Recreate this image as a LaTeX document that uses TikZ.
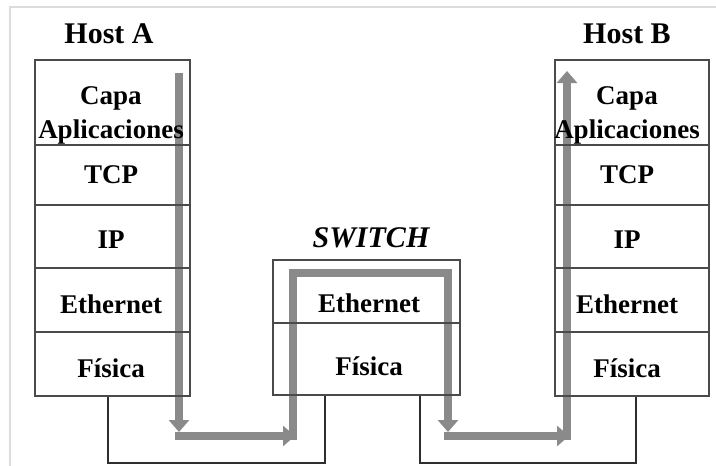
\documentclass[tikz,border=0pt]{standalone}
\usepackage{fontspec}
\setmainfont{Liberation Serif}
\usetikzlibrary{arrows.meta}
\pgfdeclarelayer{background}
\pgfsetlayers{background,main}

\definecolor{boxline}{HTML}{4A4A4A}
\definecolor{flowgray}{HTML}{8A8A8A}
\definecolor{wirecol}{HTML}{2E2E2E}
\definecolor{framecol}{HTML}{DCDCDC}

\newcommand\cellfont{\fontsize{27}{29}\selectfont\bfseries}
\newcommand\titlefont{\fontsize{30}{32}\selectfont\bfseries}

\begin{document}
\begin{tikzpicture}[x=1pt,y=-1pt,
  cellbox/.style={draw=boxline, line width=2pt, inner sep=0pt},
  hostcell/.style={cellbox, minimum width=155pt},
  swcell/.style={cellbox, minimum width=187pt},
  lbl/.style={font=\cellfont, inner sep=0pt, anchor=base},
  ttl/.style={font=\titlefont, inner sep=0pt, anchor=base},
  flow/.style={draw=flowgray, line width=8pt},
  flowtip/.style={flow, -{Triangle[length=12pt,width=20pt]}},
  wire/.style={draw=wirecol, line width=2pt}]

\useasboundingbox (0,0) rectangle (716,466);
% light frame on the left and top edges
\draw[framecol, line width=1.5pt] (10,466) -- (10,7) -- (716,7);

% ---- Host A stack
\node[ttl] (tA) at (109,43) {Host A};
\node[hostcell, minimum height=85pt] (aApp) at (112.5,102.5) {};
\node[hostcell, minimum height=60pt] (aTcp) at (112.5,175) {};
\node[hostcell, minimum height=63pt] (aIp)  at (112.5,236.5) {};
\node[hostcell, minimum height=64pt] (aEth) at (112.5,300) {};
\node[hostcell, minimum height=64pt] (aFis) at (112.5,364) {};
\node[lbl] (aAppT1) at (111,104) {Capa};
\node[lbl] (aAppT2) at (111,138) {Aplicaciones};
\node[lbl] (aTcpT) at (111,183) {TCP};
\node[lbl] (aIpT)  at (111,248) {IP};
\node[lbl] (aEthT) at (111,313) {Ethernet};
\node[lbl] (aFisT) at (111,377) {Física};

% ---- Switch
\node[ttl, font=\titlefont\itshape] (tS) at (371,247) {SWITCH};
\node[swcell, minimum height=63pt] (sEth) at (366.5,291.5) {};
\node[swcell, minimum height=72pt] (sFis) at (366.5,359) {};
\node[lbl] (sEthT) at (369,312) {Ethernet};
\node[lbl] (sFisT) at (369,375) {Física};

% ---- Host B stack
\node[ttl] (tB) at (627,43) {Host B};
\node[hostcell, minimum width=154pt, minimum height=85pt] (bApp) at (632,102.5) {};
\node[hostcell, minimum width=154pt, minimum height=60pt] (bTcp) at (632,175) {};
\node[hostcell, minimum width=154pt, minimum height=63pt] (bIp)  at (632,236.5) {};
\node[hostcell, minimum width=154pt, minimum height=64pt] (bEth) at (632,300) {};
\node[hostcell, minimum width=154pt, minimum height=64pt] (bFis) at (632,364) {};
\node[lbl] (bAppT1) at (627,104) {Capa};
\node[lbl] (bAppT2) at (627,138) {Aplicaciones};
\node[lbl] (bTcpT) at (627,183) {TCP};
\node[lbl] (bIpT)  at (627,248) {IP};
\node[lbl] (bEthT) at (627,313) {Ethernet};
\node[lbl] (bFisT) at (627,377) {Física};

% ---- physical links
\coordinate (wA)  at (108,463);
\coordinate (wS1) at (325,463);
\coordinate (wS2) at (420,463);
\coordinate (wB)  at (636,463);
\draw[wire] (aFis.south -| wA) -- (wA) -- (wS1) -- (sFis.south -| wS1);
\draw[wire] (sFis.south -| wS2) -- (wS2) -- (wB) -- (bFis.south -| wB);

% ---- data flow
\coordinate (fA1) at (179,73);
\coordinate (fA2) at (179,432);
\coordinate (fH1) at (175,436);
\coordinate (fH2) at (295,436);
\coordinate (fS1) at (293,440);
\coordinate (fS2) at (293,273);
\coordinate (fS3) at (448,273);
\coordinate (fS4) at (448,432);
\coordinate (fH3) at (444,436);
\coordinate (fH4) at (569,436);
\coordinate (fB1) at (567,440);
\coordinate (fB2) at (567,71);
\begin{pgfonlayer}{background}
  \draw[flowtip] (fA1) -- (fA2);
  \draw[flowtip] (fH1) -- (fH2);
  \draw[flowtip] (fS1) -- (fS2) -- (fS3) -- (fS4);
  \draw[flowtip] (fH3) -- (fH4);
  \draw[flowtip] (fB1) -- (fB2);
\end{pgfonlayer}
\end{tikzpicture}
\end{document}
